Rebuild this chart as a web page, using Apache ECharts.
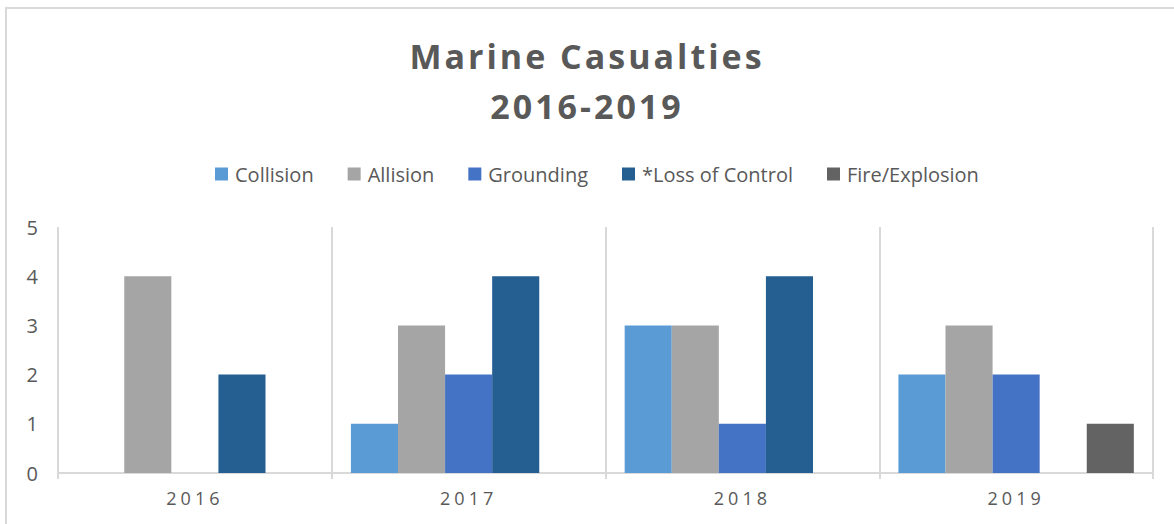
<!DOCTYPE html>
<html>
<head>
<meta charset="utf-8">
<script src="https://cdn.jsdelivr.net/npm/echarts@6/dist/echarts.min.js"></script>
<style>
  html, body { margin: 0; padding: 0; background: #fff; }
  #chart { width: 1174px; height: 524px; }
  #chart text[style*="34px"] { letter-spacing: 3px; }
  #chart text[style*="18px"] { letter-spacing: 4px; }
</style>
</head>
<body>
<div id="chart"></div>
<script>
const years = ['2016', '2017', '2018', '2019'];
const seriesNames = ['Collision', 'Allision', 'Grounding', '*Loss of Control', 'Fire/Explosion'];
const collision = [0, 1, 3, 2];
const allision = [4, 3, 3, 3];
const grounding = [0, 2, 1, 2];
const lossOfControl = [2, 4, 4, 0];
const fireExplosion = [0, 0, 0, 1];
const yTicks = [0, 1, 2, 3, 4, 5];

const colors = ['#5B9BD5', '#A5A5A5', '#4472C4', '#255E91', '#636363'];
const values = [collision, allision, grounding, lossOfControl, fireExplosion];

const chart = echarts.init(document.getElementById('chart'), null, { renderer: 'svg' });
chart.setOption({
  animation: false,
  textStyle: { fontFamily: '"Open Sans", sans-serif' },
  graphic: [{
    type: 'rect', silent: true,
    shape: { x: 6, y: 8, width: 1190, height: 540 },
    style: { fill: 'none', stroke: '#d9d9d9', lineWidth: 2 }
  }],
  title: {
    text: 'Marine Casualties\n2016-2019',
    left: 'center',
    top: 26,
    textStyle: { fontSize: 34, fontWeight: 'bold', color: '#595959', lineHeight: 50, fontFamily: '"Open Sans", sans-serif' }
  },
  legend: {
    left: 210,
    top: 159,
    itemWidth: 13,
    itemHeight: 13,
    itemGap: 34,
    icon: 'rect',
    textStyle: { fontSize: 20, color: '#595959', padding: [0, 0, 0, 2] },
    data: seriesNames
  },
  grid: { left: 58, right: 21, top: 227, bottom: 51, containLabel: false },
  xAxis: {
    type: 'category',
    data: years,
    boundaryGap: true,
    axisLine: { show: true, lineStyle: { color: '#d9d9d9', width: 2 } },
    axisTick: { show: true, length: 6, lineStyle: { color: '#d9d9d9', width: 2 } },
    splitLine: { show: true, lineStyle: { color: '#d9d9d9', width: 2 } },
    axisLabel: { fontSize: 18, color: '#595959', margin: 16 }
  },
  yAxis: {
    type: 'value',
    min: yTicks[0],
    max: yTicks[yTicks.length - 1],
    interval: 1,
    axisLine: { show: false },
    axisTick: { show: false },
    splitLine: { show: false },
    axisLabel: { fontSize: 20, color: '#595959', margin: 20 }
  },
  series: seriesNames.map((name, i) => ({
    name: name,
    type: 'bar',
    data: values[i],
    barGap: '0%',
    barCategoryGap: '14%',
    itemStyle: { color: colors[i] }
  }))
});
</script>
</body>
</html>
